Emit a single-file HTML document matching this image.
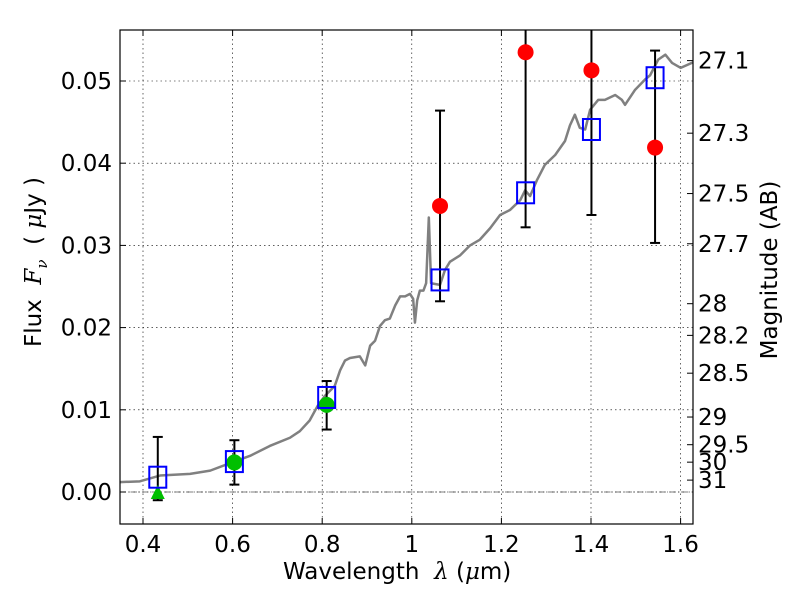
<!DOCTYPE html>
<html><head><meta charset="utf-8"><style>
html,body{margin:0;padding:0;background:#fff;}
svg{display:block;font-family:"DejaVu Sans","Liberation Sans",sans-serif;}
</style></head><body>
<svg id="chart" width="800" height="600" viewBox="0 0 800 600"></svg>
<script>
const xTicks=[0.4,0.6,0.8,1.0,1.2,1.4,1.6];
const xTickLabels=["0.4","0.6","0.8","1","1.2","1.4","1.6"];
const yTicks=[0,0.01,0.02,0.03,0.04,0.05];
const yTickLabels=["0.00","0.01","0.02","0.03","0.04","0.05"];
const magTicks=[27.1,27.3,27.5,27.7,28,28.2,28.5,29,29.5,30,31];
const magTickLabels=["27.1","27.3","27.5","27.7","28","28.2","28.5","29","29.5","30","31"];
const specW=[0.349,0.393,0.438,0.505,0.550,0.594,0.639,0.683,0.728,0.750,0.772,0.790,0.806,0.828,0.840,0.851,0.862,0.884,0.896,0.907,0.918,0.929,0.940,0.951,0.963,0.974,0.985,0.996,1.003,1.007,1.012,1.018,1.026,1.032,1.038,1.043,1.063,1.074,1.085,1.108,1.130,1.152,1.175,1.197,1.219,1.242,1.253,1.264,1.279,1.297,1.320,1.342,1.353,1.364,1.375,1.387,1.398,1.416,1.431,1.454,1.469,1.476,1.498,1.521,1.532,1.550,1.566,1.581,1.600,1.629];
const specF=[0.0012,0.0013,0.0020,0.0022,0.0026,0.0035,0.0044,0.0056,0.0066,0.0074,0.0087,0.0105,0.0117,0.0129,0.0148,0.0160,0.0163,0.0165,0.0154,0.0178,0.0184,0.0202,0.0209,0.0211,0.0227,0.0238,0.0238,0.0241,0.0235,0.0206,0.0233,0.0245,0.0245,0.0254,0.0334,0.0254,0.0252,0.0270,0.0280,0.0288,0.0300,0.0307,0.0321,0.0337,0.0343,0.0355,0.0367,0.0360,0.0379,0.0398,0.0410,0.0427,0.0446,0.0459,0.0443,0.0441,0.0465,0.0477,0.0477,0.0483,0.0477,0.0471,0.0489,0.0502,0.0507,0.0526,0.0532,0.0522,0.0516,0.0523];
const bandW=[0.433,0.604,0.81,1.063,1.254,1.401,1.543];
const modelF=[0.0018,0.0037,0.0115,0.0258,0.0364,0.0441,0.0504];
const errLo=[-0.001,0.0009,0.0076,0.0232,0.0322,0.0337,0.0303];
const errHi=[0.0067,0.0063,0.0135,0.0464,0.07,0.07,0.0537];
const greenW=[0.604,0.81];
const greenF=[0.0036,0.0106];
const triW=[0.433];
const triF=[0.0];
const redW=[1.063,1.254,1.401,1.543];
const redF=[0.0348,0.0535,0.0513,0.0419];

const L=120,R=693,T=30,B=524;
const X=w=>143+(w-0.4)*448;
const Y=f=>492-f*8220;
const magToF=m=>Math.pow(10,(23.9-m)/2.5);
const NS="http://www.w3.org/2000/svg";
const svg=document.getElementById('chart');
function mk(tag,attrs,parent){const e=document.createElementNS(NS,tag);for(const k in attrs)e.setAttribute(k,attrs[k]);(parent||svg).appendChild(e);return e;}

const defs=mk('defs',{});
const cp=mk('clipPath',{id:'clip'},defs);
mk('rect',{x:L,y:T,width:R-L,height:B-T},cp);

const grid=mk('g',{});


xTicks.forEach(t=>{mk('line',{x1:X(t),x2:X(t),y1:T,y2:B,stroke:'#000','stroke-width':0.6,'stroke-dasharray':'1.5,3'},grid);});
yTicks.forEach(t=>{mk('line',{x1:L,x2:R,y1:Y(t),y2:Y(t),stroke:'#000','stroke-width':0.6,'stroke-dasharray':'1.5,3'},grid);});

const zl=mk('line',{x1:L,x2:R,y1:Y(0),y2:Y(0),stroke:'#000','stroke-width':0.6,'stroke-dasharray':'6,2,1,2'});



const plot=mk('g',{'clip-path':'url(#clip)'});
const sp=mk('polyline',{points:specW.map((w,i)=>X(w)+','+Y(specF[i])).join(' '),fill:'none',stroke:'#808080','stroke-width':2.5,'stroke-linejoin':'round'},plot);



bandW.forEach((w,i)=>{
  const g=mk('g',{},plot);
  
  
  const x=X(w);
  mk('line',{x1:x,x2:x,y1:Y(errLo[i]),y2:Y(errHi[i]),stroke:'#000','stroke-width':2},g);
  mk('line',{x1:x-5,x2:x+5,y1:Y(errLo[i]),y2:Y(errLo[i]),stroke:'#000','stroke-width':2},g);
  mk('line',{x1:x-5,x2:x+5,y1:Y(errHi[i]),y2:Y(errHi[i]),stroke:'#000','stroke-width':2},g);
});
greenW.forEach((w,i)=>{
  const c=mk('circle',{cx:X(w),cy:Y(greenF[i]),r:8,fill:'#00bf00'},plot);
  
  
});
triW.forEach((w,i)=>{
  const x=X(w),y=Y(triF[i]);
  const p=mk('polygon',{points:`${x},${y-7} ${x-7},${y+7} ${x+7},${y+7}`,fill:'#00bf00'},plot);
  
  
});
bandW.forEach((w,i)=>{
  const r=mk('rect',{x:X(w)-8.5,y:Y(modelF[i])-10.5,width:17,height:21,fill:'none',stroke:'#0000ff','stroke-width':2},plot);
  
  
});
redW.forEach((w,i)=>{
  const c=mk('circle',{cx:X(w),cy:Y(redF[i]),r:8,fill:'#ff0000'},plot);
  
  
});

const ax=mk('g',{});


xTicks.forEach((t,i)=>{
  const x=X(t);
  mk('line',{x1:x,x2:x,y1:B,y2:B-6,stroke:'#000','stroke-width':1},ax);
  mk('line',{x1:x,x2:x,y1:T,y2:T+6,stroke:'#000','stroke-width':1},ax);
  const tx=mk('text',{x:x,y:B+28,'font-size':23,'text-anchor':'middle'},ax);
  tx.textContent=xTickLabels[i];
  
  
});
yTicks.forEach((t,i)=>{
  const y=Y(t);
  mk('line',{x1:L,x2:L+6,y1:y,y2:y,stroke:'#000','stroke-width':1},ax);
  const tx=mk('text',{x:L-8,y:y+8,'font-size':23,'text-anchor':'end'},ax);
  tx.textContent=yTickLabels[i];
  
  
});
magTicks.forEach((m,i)=>{
  const y=Y(magToF(m));
  mk('line',{x1:R,x2:R-6,y1:y,y2:y,stroke:'#000','stroke-width':1},ax);
  const tx=mk('text',{x:R+5,y:y+8,'font-size':23,'text-anchor':'start'},ax);
  tx.textContent=magTickLabels[i];
  
  
});
const fr=mk('rect',{x:L,y:T,width:R-L,height:B-T,fill:'none',stroke:'#000','stroke-width':1.2},ax);


</script>
<div style="position:absolute;left:0;top:0;width:800px;height:600px;pointer-events:none;font-family:'DejaVu Sans','Liberation Sans',sans-serif;">
<div style="position:absolute;left:283px;top:559px;font-size:23px;white-space:nowrap;">Wavelength&nbsp; <i style="font-family:'DejaVu Serif',serif">λ</i> (<i style="font-family:'DejaVu Serif',serif">μ</i>m)</div>
<div style="position:absolute;left:36px;top:262px;font-size:23px;white-space:nowrap;transform:translate(-50%,-50%) rotate(-90deg);">Flux&nbsp; <i style="font-family:'DejaVu Serif',serif">F<sub style="font-size:15px">ν</sub></i>&nbsp; ( <i style="font-family:'DejaVu Serif',serif">μ</i>Jy )</div>
<div style="position:absolute;left:770px;top:270px;font-size:23px;white-space:nowrap;transform:translate(-50%,-50%) rotate(-90deg);">Magnitude (AB)</div>
</div>
</body></html>
